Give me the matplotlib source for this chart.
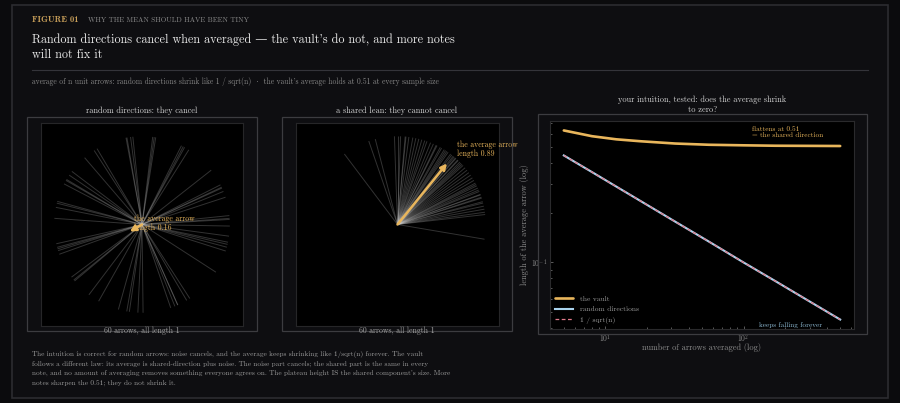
import numpy as np
import matplotlib
matplotlib.use('Agg')
import matplotlib.pyplot as plt
from matplotlib.patches import Rectangle

plt.rcParams['font.family'] = ['cmr10', 'DejaVu Serif']
plt.rcParams['mathtext.fontset'] = 'cm'
plt.rcParams['axes.formatter.use_mathtext'] = True

# ---------------- data ----------------
# panel 1: directions (degrees) of 60 unit arrows, random
random_angles = [99.9, 97.5, 96, 81, 83, 63.3, 57.8, 61, 38, 26.7,
                 24.4, 22, 18, 5.8, 3.3, -1, -7.6, -11.6, -14.9, -17.5,
                 -32.7, -59.4, -57, -65.9, -70.9, -68, -89.3, -92.7, -98.3, -105.6,
                 -119.6, -127.2, -140.2, -143.4, -160.3, -162.8, -167.4, -165, 176, 168.8,
                 164.8, 152.6, 149.3, 143, 146, 130.8, 120.8, 123, 100.5, 82,
                 62, 25, 4, -13, -66, -100, -141, -164, 150, 166]
random_mean_len = 0.16
random_mean_angle = 210

# panel 2: directions (degrees) of 60 unit arrows sharing a lean
lean_angles = [127, 109, 104.6, 92, 90, 84.5, 82.6, 80, 76, 72,
               70.5, 63.4, 61, 57, 53, 50.8, 48.5, 46.5, 44, 31.9,
               27, 24.4, 22, 19.6, 17.4, 14.1, 6.5, -9.6, 85, 78,
               74, 68, 66, 64, 60, 58, 56, 55, 52, 50,
               49, 47, 45, 43, 42, 40, 38, 36, 34, 30,
               28, 26, 23, 20, 18, 15, 12, 10, 8, 88]
lean_mean_len = 0.89
lean_mean_angle = 51

# panel 3: average length vs number of arrows
n_arrows = [5, 8, 12, 18, 32, 56, 100, 170, 300, 500]
vault_len = [0.634, 0.585, 0.560, 0.545, 0.528, 0.519, 0.515, 0.512, 0.511, 0.510]
random_len = [0.447, 0.354, 0.289, 0.236, 0.177, 0.134, 0.100, 0.077, 0.058, 0.045]
inv_sqrt_n = [0.447, 0.354, 0.289, 0.236, 0.177, 0.134, 0.100, 0.077, 0.058, 0.045]

caption = "60 arrows, all length 1"
body_lines = [
    "The intuition is correct for random arrows: noise cancels, and the average keeps shrinking like 1/sqrt(n) forever. The vault",
    "follows a different law: its average is shared-direction plus noise. The noise part cancels; the shared part is the same in every",
    "note, and no amount of averaging removes something everyone agrees on. The plateau height IS the shared component's size. More",
    "notes sharpen the 0.51; they do not shrink it.",
]

# ---------------- style ----------------
BG = '#0b0b0d'
FRAME_BG = '#0e0e11'
GOLD = '#e9b65c'
BLUE = '#a9d3ee'
PINK = '#e07a8a'
W, H = 900, 403

fig = plt.figure(figsize=(9, 4.03), dpi=100)
fig.patch.set_facecolor(BG)


def fx(x):
    return x / W


def fy(y):
    return 1 - y / H


def frect(x0, y0, x1, y1, **kw):
    r = Rectangle((fx(x0), fy(y1)), fx(x1) - fx(x0), fy(y0) - fy(y1),
                  transform=fig.transFigure, **kw)
    fig.add_artist(r)
    return r


# outer frame
frect(12, 5, 888, 398, facecolor=FRAME_BG, edgecolor='#2c2c30', lw=1.2, zorder=0)

# header
fig.text(fx(32), fy(21.5), "FIGURE 01", family=['cmb10', 'DejaVu Serif'], fontsize=6.3,
         color='#c9a05a', va='baseline', ha='left')
fig.text(fx(88), fy(21.5), "WHY THE MEAN SHOULD HAVE BEEN TINY", fontsize=5.2,
         color='#8c8c8c', va='baseline', ha='left')
fig.text(fx(32), fy(43.5), "Random directions cancel when averaged \u2014 the vault's do not, and more notes",
         fontsize=8.75, color='#e8e8e8', va='baseline', ha='left')
fig.text(fx(32), fy(58.5), "will not fix it", fontsize=8.75, color='#e8e8e8', va='baseline', ha='left')
fig.add_artist(plt.Line2D([fx(32), fx(868)], [fy(70), fy(70)], transform=fig.transFigure,
                          color='#34343a', lw=0.8))
fig.text(fx(32), fy(83.5),
         "average of n unit arrows: random directions shrink like 1 / sqrt(n)  \u00b7  the vault's average holds at 0.51 at every sample size",
         fontsize=5.45, color='#8a8a8a', va='baseline', ha='left')

# body
for i, line in enumerate(body_lines):
    fig.text(fx(32), fy(355.5 + 9.8 * i), line, fontsize=5.25, color='#9c9c9c',
             va='baseline', ha='left')

LIM = 1.15


def arrow_panel(ax_rect, frame, title, angles, mlen, mang, txt_off):
    x0, y0, x1, y1 = frame
    frect(x0, y0, x1, y1, facecolor='none', edgecolor='#3c3c40', lw=0.9, zorder=1)
    fig.text(fx((x0 + x1) / 2), fy(111), title, fontsize=6, color='#d2d2d2',
             ha='center', va='center')
    fig.text(fx((x0 + x1) / 2), fy(331), caption, fontsize=5.6, color='#a6a6a6',
             ha='center', va='center')
    ax = fig.add_axes(ax_rect)
    ax.set_facecolor('#000000')
    a = np.deg2rad(np.array(angles))
    for ang in a:
        ax.plot([0, np.cos(ang)], [0, np.sin(ang)], color='#d0d0d0', lw=0.7, alpha=0.24,
                solid_capstyle='butt')
    ma = np.deg2rad(mang)
    tip = (mlen * np.cos(ma), mlen * np.sin(ma))
    ax.annotate('', xy=tip, xytext=(0, 0),
                arrowprops=dict(arrowstyle='-|>,head_length=0.5,head_width=0.25', color=GOLD, lw=1.8,
                                shrinkA=0, shrinkB=0, mutation_scale=7))
    ax.annotate("the average arrow\nlength %.2f" % mlen, xy=tip, xytext=txt_off,
                textcoords='offset points', fontsize=5.6, color=GOLD, ha='left',
                va='center', linespacing=1.05)
    ax.set_xlim(-LIM, LIM)
    ax.set_ylim(-LIM, LIM)
    ax.set_xticks([])
    ax.set_yticks([])
    for s in ax.spines.values():
        s.set_color('#262628')
        s.set_linewidth(0.8)
    return ax


arrow_panel([fx(41), fy(326), fx(243) - fx(41), fy(123) - fy(326)], (27, 117, 257, 331),
            "random directions: they cancel", random_angles, random_mean_len,
            random_mean_angle, (3, 6))
arrow_panel([fx(296), fy(326), fx(499) - fx(296), fy(123) - fy(326)], (282, 117, 512, 331),
            "a shared lean: they cannot cancel", lean_angles, lean_mean_len,
            lean_mean_angle, (7, 10))

# panel 3
frect(538, 114, 867, 334, facecolor='none', edgecolor='#3c3c40', lw=0.9, zorder=1)
fig.text(fx(702.5), fy(105), "your intuition, tested: does the average shrink\nto zero?",
         fontsize=6, color='#d2d2d2', ha='center', va='center', linespacing=1.25)
ax3 = fig.add_axes([fx(550), fy(329), fx(854) - fx(550), fy(121) - fy(329)])
ax3.set_facecolor('#000000')
ax3.plot(n_arrows, vault_len, color=GOLD, lw=1.9, label='the vault', solid_capstyle='round')
ax3.plot(n_arrows, random_len, color=BLUE, lw=1.5, label='random directions')
ax3.plot(n_arrows, inv_sqrt_n, color=PINK, lw=0.9, ls=(0, (3, 2)), label='1 / sqrt(n)')
ax3.set_xscale('log')
ax3.set_yscale('log')
for s in ax3.spines.values():
    s.set_color('#2a2a2c')
    s.set_linewidth(0.8)
ax3.tick_params(which='both', colors='#6a6a6a', labelcolor='#8a8a8a', labelsize=5.5,
                direction='in', width=0.6)
ax3.tick_params(which='major', length=2.5, pad=2)
ax3.tick_params(which='minor', length=1.5)
ax3.set_xlabel("number of arrows averaged (log)", fontsize=6, color='#8c8c8c', labelpad=-1)
ax3.set_ylabel("length of the average arrow (log)", fontsize=6, color='#8c8c8c', labelpad=1.5)
ax3.text(0.664, 0.975, "flattens at 0.51\n= the shared direction", transform=ax3.transAxes,
         fontsize=5.2, color=GOLD, ha='left', va='top', linespacing=1.05)
ax3.text(0.895, 0.005, "keeps falling forever", transform=ax3.transAxes,
         fontsize=5.2, color='#8fbcd6', ha='right', va='bottom')
leg = ax3.legend(loc='lower left', frameon=False, fontsize=5.4, handlelength=2.4,
                 labelspacing=0.55, borderaxespad=0.3, handletextpad=0.9,
                 bbox_to_anchor=(0.0, 0.0))
for t in leg.get_texts():
    t.set_color('#a0a0a0')

fig.savefig('out.png', dpi=100, facecolor=BG)
